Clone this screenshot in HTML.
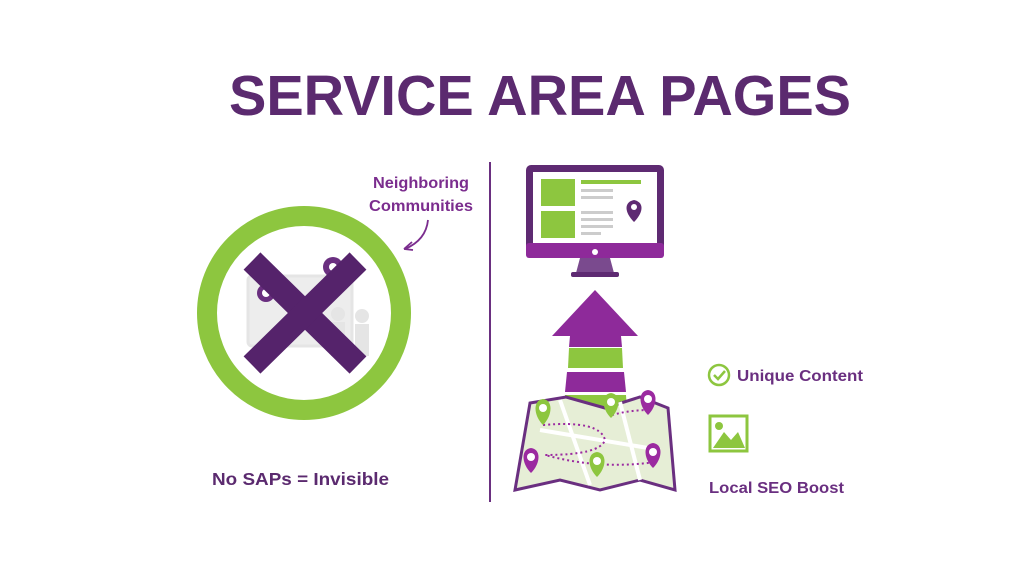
<!DOCTYPE html>
<html><head><style>
body{margin:0;width:1024px;height:576px;background:#fff;overflow:hidden;font-family:"Liberation Sans",Arial,sans-serif;}
</style></head><body>
<svg width="1024" height="576" viewBox="0 0 1024 576" xmlns="http://www.w3.org/2000/svg">
<text x="540" y="115" text-anchor="middle" font-family="Liberation Sans, sans-serif" font-weight="bold" font-size="57" fill="#5b2a6f" textLength="622" lengthAdjust="spacingAndGlyphs">SERVICE AREA PAGES</text>

<g opacity="0.5">
<rect x="248" y="276" width="104" height="70" rx="4" fill="#ddd" stroke="#ccc" stroke-width="3"/>
<circle cx="338" cy="314" r="7" fill="#ccc"/><rect x="331" y="322" width="14" height="34" fill="#ccc"/>
<circle cx="362" cy="316" r="7" fill="#ccc"/><rect x="355" y="324" width="14" height="32" fill="#ccc"/>
</g>
<circle cx="304" cy="313" r="97" fill="none" stroke="#8dc63f" stroke-width="20"/>
<circle cx="266" cy="293" r="9" fill="#6a2f80"/><circle cx="333" cy="267" r="10" fill="#6a2f80"/>
<circle cx="266" cy="293" r="4" fill="#fff"/><circle cx="333" cy="267" r="4" fill="#fff"/>
<g stroke="#55236b" stroke-width="24">
<line x1="252" y1="261" x2="358" y2="365"/>
<line x1="358" y1="261" x2="252" y2="365"/>
</g>
<text font-weight="bold" font-size="16" fill="#7b2d8e" text-anchor="middle"><tspan x="421" y="188" textLength="96" lengthAdjust="spacingAndGlyphs">Neighboring</tspan><tspan x="421" y="211" textLength="104" lengthAdjust="spacingAndGlyphs">Communities</tspan></text>
<path d="M428 220 Q426 240 405 249" fill="none" stroke="#7b2d8e" stroke-width="1.8"/>
<path d="M404 249 L412 242 M404 249 L413 250" stroke="#7b2d8e" stroke-width="1.8"/>
<text x="212" y="485" font-weight="bold" font-size="17.5" fill="#5b2a6f" textLength="177" lengthAdjust="spacingAndGlyphs">No SAPs = Invisible</text>

<line x1="490" y1="162" x2="490" y2="502" stroke="#6a2f80" stroke-width="2"/>

<rect x="526" y="165" width="138" height="93" rx="5" fill="#5e2a72"/>
<rect x="533" y="172" width="124" height="71" fill="#fff"/>
<rect x="526" y="243" width="138" height="15" rx="3" fill="#8e2a9a"/>
<circle cx="595" cy="252" r="3" fill="#fff"/>
<polygon points="580,258 610,258 614,273 576,273" fill="#7a4a8e"/>
<rect x="571" y="272" width="48" height="5" rx="2" fill="#5e2a72"/>
<rect x="541" y="179" width="34" height="27" fill="#8dc63f"/>
<rect x="541" y="211" width="34" height="27" fill="#8dc63f"/>
<rect x="581" y="180" width="60" height="4" fill="#8dc63f"/>
<g fill="#ccc"><rect x="581" y="189" width="32" height="3"/><rect x="581" y="196" width="32" height="3"/><rect x="581" y="211" width="32" height="3"/><rect x="581" y="218" width="32" height="3"/><rect x="581" y="225" width="32" height="3"/><rect x="581" y="232" width="20" height="3"/></g>
<path d="M634 222 C624 212 624 202 634 200 C644 202 644 212 634 222Z" fill="#5e2a72"/>
<circle cx="634" cy="207" r="3" fill="#fff"/>

<polygon points="595,290 638,336 552,336" fill="#8e2a9a"/>
<polygon points="570,336 621,336 622,347 569,347" fill="#8e2a9a"/>
<polygon points="569,348 622,348 623,368 568,368" fill="#8dc63f"/>
<polygon points="567,372 624,372 626,392 565,392" fill="#8e2a9a"/>
<polygon points="565,395 626,395 627,410 564,410" fill="#8dc63f"/>

<polygon points="530,403 566,397 605,408 640,397 668,408 675,490 640,480 600,490 560,480 515,490" fill="#e6eed6" stroke="#6a2f80" stroke-width="3"/>
<g stroke="#fff" stroke-width="4" fill="none"><path d="M540 430 L660 450"/><path d="M560 400 L590 485"/><path d="M620 402 L640 480"/></g>
<path d="M543 425 Q600 420 605 440 Q600 455 545 455 Q600 470 655 462 M612 415 Q630 410 650 410" fill="none" stroke="#9b2aa0" stroke-width="2" stroke-dasharray="2,3"/>
<g>
<path d="M543 425 C533 415 533 400 543 399 C553 400 553 415 543 425Z" fill="#8dc63f"/><circle cx="543" cy="408" r="4" fill="#fff"/>
<path d="M611 418 C601 408 601 394 611 393 C621 394 621 408 611 418Z" fill="#8dc63f"/><circle cx="611" cy="402" r="4" fill="#fff"/>
<path d="M648 415 C638 405 638 391 648 390 C658 391 658 405 648 415Z" fill="#9b2aa0"/><circle cx="648" cy="399" r="4" fill="#fff"/>
<path d="M531 473 C521 463 521 449 531 448 C541 449 541 463 531 473Z" fill="#9b2aa0"/><circle cx="531" cy="457" r="4" fill="#fff"/>
<path d="M597 477 C587 467 587 453 597 452 C607 453 607 467 597 477Z" fill="#8dc63f"/><circle cx="597" cy="461" r="4" fill="#fff"/>
<path d="M653 468 C643 458 643 444 653 443 C663 444 663 458 653 468Z" fill="#9b2aa0"/><circle cx="653" cy="452" r="4" fill="#fff"/>
</g>

<circle cx="719" cy="375" r="10" fill="none" stroke="#8dc63f" stroke-width="2.5"/>
<path d="M714 375 L718 379 L725 371" fill="none" stroke="#8dc63f" stroke-width="2.5"/>
<text x="737" y="381" font-weight="bold" font-size="16" fill="#6a2f80" textLength="126" lengthAdjust="spacingAndGlyphs">Unique Content</text>
<rect x="710" y="416" width="37" height="35" fill="none" stroke="#8dc63f" stroke-width="3"/>
<circle cx="719" cy="426" r="4" fill="#8dc63f"/>
<polygon points="713,448 724,432 731,440 738,432 745,448" fill="#8dc63f"/>
<text x="709" y="493" font-weight="bold" font-size="16" fill="#6a2f80" textLength="135" lengthAdjust="spacingAndGlyphs">Local SEO Boost</text>
</svg>
</body></html>
